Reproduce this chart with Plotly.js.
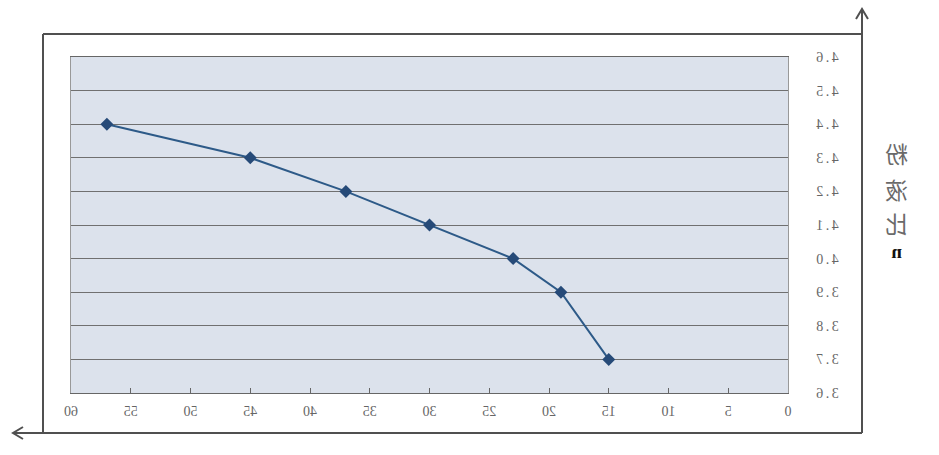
<!DOCTYPE html>
<html>
<head>
<meta charset="utf-8">
<script src="https://cdn.plot.ly/plotly-3.0.1.min.js"></script>
<style>
html,body{margin:0;padding:0;background:#fff;}
#plot{width:939px;height:455px;transform:scaleX(-1);}
#plot .ytick text{letter-spacing:2.5px;}
</style>
</head>
<body>
<div id="plot"></div>
<script>
// data (x: 0..60, y: 粉液比 n)
const xValues = [15, 19, 23, 30, 37, 45, 57];
const yValues = [3.7, 3.9, 4.0, 4.1, 4.2, 4.3, 4.4];
const xTicks = [0, 5, 10, 15, 20, 25, 30, 35, 40, 45, 50, 55, 60];
const yTicks = [3.6, 3.7, 3.8, 3.9, 4.0, 4.1, 4.2, 4.3, 4.4, 4.5, 4.6];
const yTitleChars = ['粉', '液', '比'];
const yTitleSymbol = 'n';

const W = 939, H = 455;
const m = {l: 151, r: 71, t: 57, b: 62};
const pw = W - m.l - m.r, ph = H - m.t - m.b;
const px = v => (v - m.l) / pw;
const py = v => (H - m.b - v) / ph;

const frameColor = '#505050';
const shapes = [
  // outer frame
  {type:'line', xref:'paper', yref:'paper', x0:px(77), x1:px(896), y0:py(34), y1:py(34), line:{color:frameColor, width:2}},
  {type:'line', xref:'paper', yref:'paper', x0:px(896), x1:px(896), y0:py(34), y1:py(433), line:{color:frameColor, width:2}},
  // vertical axis arrow
  {type:'line', xref:'paper', yref:'paper', x0:px(77), x1:px(77), y0:py(433), y1:py(9), line:{color:frameColor, width:2}},
  {type:'path', xref:'paper', yref:'paper', path:`M ${px(71)} ${py(19)} L ${px(77)} ${py(9)} L ${px(83)} ${py(19)}`, line:{color:frameColor, width:2}},
  // horizontal axis arrow
  {type:'line', xref:'paper', yref:'paper', x0:px(77), x1:px(926), y0:py(433), y1:py(433), line:{color:frameColor, width:2}},
  {type:'path', xref:'paper', yref:'paper', path:`M ${px(916)} ${py(427)} L ${px(926)} ${py(433)} L ${px(916)} ${py(439)}`, line:{color:frameColor, width:2}}
];

const annotations = [];
const charYs = [153, 189, 223];
yTitleChars.forEach((c, i) => {
  annotations.push({xref:'paper', yref:'paper', x:px(42), y:py(charYs[i]), text:c, showarrow:false,
    font:{family:'Noto Sans CJK SC', size:23, color:'#6a6a6a'}, xanchor:'center', yanchor:'middle'});
});
annotations.push({xref:'paper', yref:'paper', x:px(42), y:py(252), text:yTitleSymbol, showarrow:false,
  font:{family:'Liberation Serif', size:19, color:'#111', weight:'bold'}, xanchor:'center', yanchor:'middle'});

const trace = {
  x: xValues, y: yValues, type:'scatter', mode:'lines+markers',
  line:{color:'#2d5a88', width:2},
  marker:{symbol:'diamond', size:10, color:'#264a78'},
  showlegend:false
};

const tickFont = {family:'Liberation Serif', size:14, color:'#666'};
const layout = {
  width: W, height: H,
  margin: m,
  paper_bgcolor:'#ffffff',
  plot_bgcolor:'#dce2ec',
  showlegend:false,
  xaxis:{
    range:[0,60], tickvals:xTicks, ticktext:xTicks.map(String),
    showgrid:false, zeroline:false,
    showline:true, linecolor:'#666', linewidth:1, mirror:true,
    ticks:'inside', ticklen:5, tickcolor:'#666',
    tickfont:tickFont, ticklabelstandoff:5
  },
  yaxis:{
    range:[3.6,4.6], tickvals:yTicks, ticktext:yTicks.map(v=>v.toFixed(1)),
    showgrid:true, gridcolor:'#707070', gridwidth:1, zeroline:false,
    showline:true, linecolor:'#999', linewidth:1, mirror:true,
    ticks:'', tickfont:tickFont, ticklabelstandoff:22
  },
  shapes: shapes,
  annotations: annotations
};

Plotly.newPlot('plot', [trace], layout, {staticPlot:true, displayModeBar:false});
</script>
</body>
</html>
